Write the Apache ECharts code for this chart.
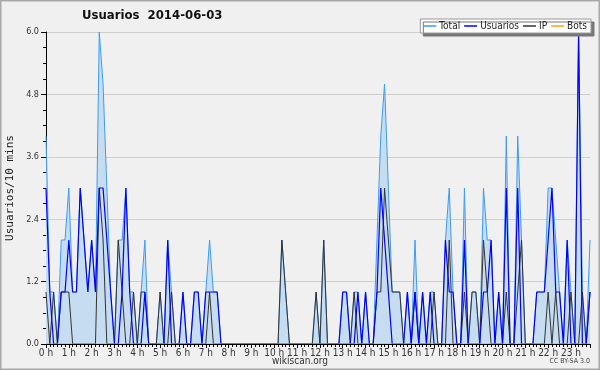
<!DOCTYPE html>
<html>
<head>
<meta charset="utf-8">
<script src="https://cdn.jsdelivr.net/npm/echarts@6/dist/echarts.min.js"></script>
<style>
  html, body { margin: 0; padding: 0; background: #f0f0f0; }
  #chart { width: 600px; height: 370px; }
</style>
</head>
<body>
<div id="chart"></div>
<script>
// 10-minute slots, 144 per day
var totalVals = [
    4,1,1,0,2,2, 3,1,1,3,2,1, 2,1,6,5,3,1, 0,2,2,3,1,1,
    0,1,2,0,0,0, 1,0,2,1,0,0, 1,0,0,1,1,0, 1,2,1,1,0,0,
    0,0,0,0,0,0, 0,0,0,0,0,0, 0,0,2,1,0,0, 0,0,0,0,0,1,
    0,2,0,0,0,0, 1,1,0,1,1,0, 1,0,0,2,4,5, 3,1,1,1,0,1,
    0,2,0,1,0,1, 1,0,0,2,3,1, 0,0,3,0,1,1, 0,3,2,2,0,1,
    0,4,0,0,4,2, 0,0,0,1,1,1, 3,3,2,1,0,2, 1,0,6,1,0,2
];
var usuariosVals = [
    3,1,0,0,1,1, 2,1,1,3,2,1, 2,1,3,3,2,1, 0,0,1,3,1,0,
    0,0,1,0,0,0, 0,0,2,0,0,0, 1,0,0,1,1,0, 1,1,1,1,0,0,
    0,0,0,0,0,0, 0,0,0,0,0,0, 0,0,0,0,0,0, 0,0,0,0,0,0,
    0,0,0,0,0,0, 1,1,0,0,1,0, 1,0,0,1,3,2, 1,0,0,0,0,1,
    0,1,0,1,0,1, 0,0,0,2,1,1, 0,0,2,0,0,0, 0,1,1,2,0,1,
    0,3,0,0,3,0, 0,0,0,1,1,1, 2,3,1,1,0,2, 0,0,6,0,0,1
];
var ipVals = [
    1,0,1,0,1,1, 1,0,0,0,0,0, 0,0,3,2,0,0, 0,2,1,0,0,1,
    0,1,1,0,0,0, 1,0,0,1,0,0, 0,0,0,0,0,0, 0,1,0,0,0,0,
    0,0,0,0,0,0, 0,0,0,0,0,0, 0,0,2,1,0,0, 0,0,0,0,0,1,
    0,2,0,0,0,0, 0,0,0,1,0,0, 0,0,0,1,1,3, 2,1,1,1,0,0,
    0,1,0,0,0,0, 1,0,0,0,2,0, 0,0,1,0,1,1, 0,2,1,0,0,0,
    0,1,0,0,1,2, 0,0,0,0,0,0, 1,0,1,0,0,0, 1,0,0,1,0,1
];
var botsVals = [
    0,0,0,0,0,0, 0,0,0,0,0,0, 0,0,0,0,0,0, 0,0,0,0,0,0,
    0,0,0,0,0,0, 0,0,0,0,0,0, 0,0,0,0,0,0, 0,0,0,0,0,0,
    0,0,0,0,0,0, 0,0,0,0,0,0, 0,0,0,0,0,0, 0,0,0,0,0,0,
    0,0,0,0,0,0, 0,0,0,0,0,0, 0,0,0,0,0,0, 0,0,0,0,0,0,
    0,0,0,0,0,0, 0,0,0,0,0,0, 0,0,0,0,0,0, 0,0,0,0,0,0,
    0,0,0,0,0,0, 0,0,0,0,0,0, 0,0,0,0,0,0, 0,0,0,0,0,0
];
var seriesNames = ['Total', 'Usuarios', 'IP', 'Bots'];
var yTicks = [0, 1.2, 2.4, 3.6, 4.8, 6.0];

function pairs(arr) {
    return arr.map(function (v, i) { return [i, v]; });
}

var font = 'DejaVu Sans Condensed';
var mychart = echarts.init(document.getElementById('chart'));

var option = {
    animation: false,
    backgroundColor: '#f0f0f0',
    title: {
        text: 'Usuarios  2014-06-03',
        left: 82,
        top: 9,
        padding: 0,
        textStyle: { fontFamily: font, fontSize: 13, fontWeight: 'bold', color: '#111' }
    },
    legend: {
        data: seriesNames,
        right: 9,
        top: 19,
        padding: [2, 4, 2, 3],
        itemGap: 4,
        itemWidth: 13,
        itemHeight: 1.5,
        icon: 'rect',
        backgroundColor: '#fff',
        borderColor: '#999',
        borderWidth: 1,
        shadowColor: '#777',
        shadowOffsetX: 3,
        shadowOffsetY: 3,
        shadowBlur: 0,
        textStyle: { fontFamily: font, fontSize: 10, color: '#222', padding: [0, 0, 0, -2] }
    },
    grid: { left: 46, right: 10, top: 32, bottom: 26, outerBoundsMode: 'none', containLabel: false },
    xAxis: {
        type: 'value',
        min: 0,
        max: 143,
        interval: 6,
        z: 5,
        axisLine: { lineStyle: { color: '#000' } },
        axisTick: { length: 4, lineStyle: { color: '#000' } },
        minorTick: { show: true, splitNumber: 6, length: 3, lineStyle: { color: '#000' } },
        splitLine: { show: false },
        axisLabel: {
            margin: 4,
            fontFamily: font,
            fontSize: 10,
            color: '#333',
            showMaxLabel: false,
            formatter: function (v) { return v % 6 === 0 ? (v / 6) + ' h' : ''; }
        }
    },
    yAxis: {
        type: 'value',
        min: yTicks[0],
        max: yTicks[yTicks.length - 1],
        interval: 1.2,
        name: 'Usuarios/10 mins',
        nameLocation: 'middle',
        nameGap: 30,
        nameTextStyle: { fontFamily: 'DejaVu Sans Mono', fontSize: 11, color: '#222' },
        axisLine: { show: true, lineStyle: { color: '#000' } },
        axisTick: { show: true, length: 5, lineStyle: { color: '#000' } },
        minorTick: { show: true, splitNumber: 4, length: 3, lineStyle: { color: '#000' } },
        splitLine: { lineStyle: { color: '#cfcfcf' } },
        axisLabel: {
            margin: 7,
            fontFamily: font,
            fontSize: 9,
            color: '#333',
            formatter: function (v) { return v.toFixed(1); }
        }
    },
    graphic: [
        {
            type: 'text', left: 'center', top: 356,
            style: { text: 'wikiscan.org', font: '10px "DejaVu Sans Condensed"', fill: '#333' }
        },
        {
            type: 'text', right: 10, top: 358,
            style: { text: 'CC BY-SA 3.0', font: '7px "DejaVu Sans Condensed"', fill: '#444' }
        },
        {
            type: 'rect', shape: { x: 0.5, y: 0.5, width: 599, height: 369 },
            style: { fill: 'none', stroke: '#a8a8a8', lineWidth: 2 }, silent: true
        }
    ],
    series: [
        {
            name: 'Total',
            type: 'line',
            data: pairs(totalVals),
            symbol: 'none',
            color: '#3d9bf5',
            lineStyle: { width: 1, color: '#3d9bf5' },
            areaStyle: { color: '#c6dcf0', opacity: 1 }
        },
        {
            name: 'IP',
            type: 'line',
            data: pairs(ipVals),
            symbol: 'none',
            color: '#333',
            lineStyle: { width: 1, color: '#333' }
        },
        {
            name: 'Usuarios',
            type: 'line',
            data: pairs(usuariosVals),
            symbol: 'none',
            color: '#0000ff',
            lineStyle: { width: 1.2, color: '#0000ff' }
        },
        {
            name: 'Bots',
            type: 'line',
            data: pairs(botsVals),
            symbol: 'none',
            color: '#ffa500',
            lineStyle: { width: 1, color: '#ffa500' }
        }
    ]
};
mychart.setOption(option);
</script>
</body>
</html>
